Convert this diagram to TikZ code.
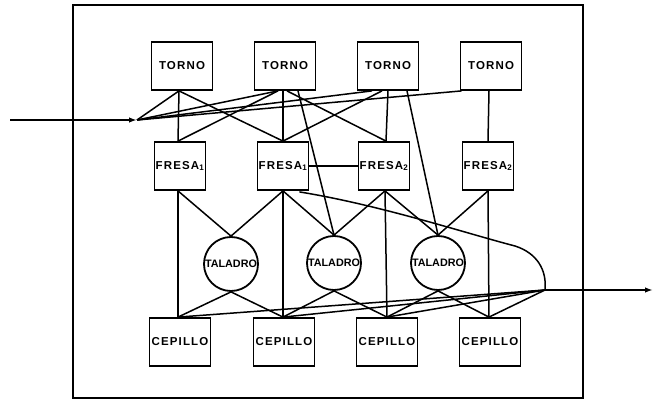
\documentclass[tikz,border=0pt]{standalone}
\usepackage{fontspec}
\usetikzlibrary{calc,arrows.meta}
\newfontfamily\lblfont{Liberation Sans}[LetterSpace=10]
\newfontfamily\drillfont{Liberation Sans}
\begin{document}
\begin{tikzpicture}[x=1pt,y=-1pt,
  machine/.style={draw, line width=1.8pt, minimum width=61pt, minimum height=48pt,
    inner sep=0pt, font=\lblfont\bfseries\fontsize{11.5}{13}\selectfont},
  mill/.style={machine, minimum width=51pt},
  drill/.style={draw, circle, line width=1.8pt, minimum size=54pt, inner sep=0pt,
    font=\drillfont\bfseries\fontsize{10.8}{12}\selectfont},
  link/.style={line width=1.5pt},
  flow/.style={line width=1.7pt, -{Latex[length=8pt,width=5.5pt]}}]

\useasboundingbox (0,0) rectangle (657,404);

% plant boundary
\draw[line width=2.2pt] (73,5) rectangle (583,398);

% lathes
\node[machine] (t1) at (182,66) {TORNO};
\node[machine] (t2) at (285,66) {TORNO};
\node[machine] (t3) at (388,66) {TORNO};
\node[machine] (t4) at (491,66) {TORNO};

% milling machines
\node[mill] (f1) at (180,166) {FRESA\textsubscript{1}};
\node[mill] (f2) at (283,166) {FRESA\textsubscript{1}};
\node[mill] (f3) at (384,166) {FRESA\textsubscript{2}};
\node[mill] (f4) at (488,166) {FRESA\textsubscript{2}};

% drills
\node[drill] (c1) at (231,264) {TALADRO};
\node[drill] (c2) at (334,263) {TALADRO};
\node[drill] (c3) at (438,263) {TALADRO};

% planers
\node[machine] (p1) at (180,342) {CEPILLO};
\node[machine] (p2) at (284,342) {CEPILLO};
\node[machine] (p3) at (387,342) {CEPILLO};
\node[machine] (p4) at (490,342) {CEPILLO};

% attachment points
\coordinate (t1b) at ($(t1.south)+(-3,0)$);
\coordinate (t2l) at ($(t2.south)+(-7,0)$);
\coordinate (t2m) at ($(t2.south)+(-2,0)$);
\coordinate (t2r) at ($(t2.south)+(2,0)$);
\coordinate (t2rr) at ($(t2.south)+(13,0)$);
\coordinate (t3a) at ($(t3.south)+(-16,0)$);
\coordinate (t3b) at ($(t3.south)+(-6,0)$);
\coordinate (t3m) at (t3.south);
\coordinate (t3r) at ($(t3.south)+(19,0)$);
\coordinate (t4l) at ($(t4.south west)+(2,0)$);
\coordinate (t4m) at ($(t4.south)+(-2,0)$);

\coordinate (f1t) at ($(f1.north)+(-2,0)$);
\coordinate (f2t) at (f2.north);
\coordinate (f3t) at ($(f3.north)+(2,0)$);
\coordinate (f4t) at (f4.north);
\coordinate (f1b) at ($(f1.south)+(-2,0)$);
\coordinate (f2b) at (f2.south);
\coordinate (f2c) at ($(f2.south east)+(-10,1)$);
\coordinate (f3b) at ($(f3.south)+(1,0)$);
\coordinate (f4b) at (f4.south);

\coordinate (p1t) at ($(p1.north)+(-2,0)$);
\coordinate (p2t) at ($(p2.north)+(-1,0)$);
\coordinate (p3t) at (p3.north);
\coordinate (p4t) at ($(p4.north)+(-1,0)$);

% input and output
\coordinate (src) at (10,120);
\coordinate (fin) at (137,120);
\coordinate (fout) at (545,290);
\coordinate (snk) at (653,290);

\draw[flow] (src) -- (fin);
\draw[flow] (fout) -- (snk);

% input fan to the lathes
\draw[link] (fin) -- (t1b);
\draw[link] (fin) -- (t2l);
\draw[link] (fin) -- (t3a);
\draw[link] (fin) -- (t4l);

% lathes to mills and drills
\draw[link] (t1b) -- (f1t);
\draw[link] (t1b) -- (f2t);
\draw[link] (t2l) -- (f1t);
\draw[link] (t2m) -- (f2t);
\draw[link] (t2r) -- (f3t);
\draw[link] (t2rr) -- (c2.north);
\draw[link] (t3b) -- (f2t);
\draw[link] (t3m) -- (f3t);
\draw[link] (t3r) -- (c3.north);
\draw[link] (t4m) -- (f4t);

\draw[link] (f2.east) -- (f3.west);

% mills to drills and planers
\draw[link] (f1b) -- (p1t);
\draw[link] (f1b) -- (c1.north);
\draw[link] (f2b) -- (c1.north);
\draw[link] (f2b) -- (p2t);
\draw[link] (f2b) -- (c2.north);
\draw[link] (f3b) -- (c2.north);
\draw[link] (f3b) -- (c3.north);
\draw[link] (f3b) -- (p3t);
\draw[link] (f4b) -- (c3.north);
\draw[link] (f4b) -- (p4t);

% drills to planers
\draw[link] (c1.south) -- (p1t);
\draw[link] (c1.south) -- (p2t);
\draw[link] (c2.south) -- (p2t);
\draw[link] (c2.south) -- (p3t);
\draw[link] (c3.south) -- (p3t);
\draw[link] (c3.south) -- (p4t);

% planers to output
\draw[link] (p1t) -- (fout);
\draw[link] (p2t) -- (fout);
\draw[link] (p3t) -- (fout);
\draw[link] (p4t) -- (fout);

% bypass from the second mill
\draw[link] (f2c) .. controls (380,205) and (465,233) .. (515,246)
  .. controls (537,253) and (547,270) .. (fout);
\end{tikzpicture}
\end{document}
